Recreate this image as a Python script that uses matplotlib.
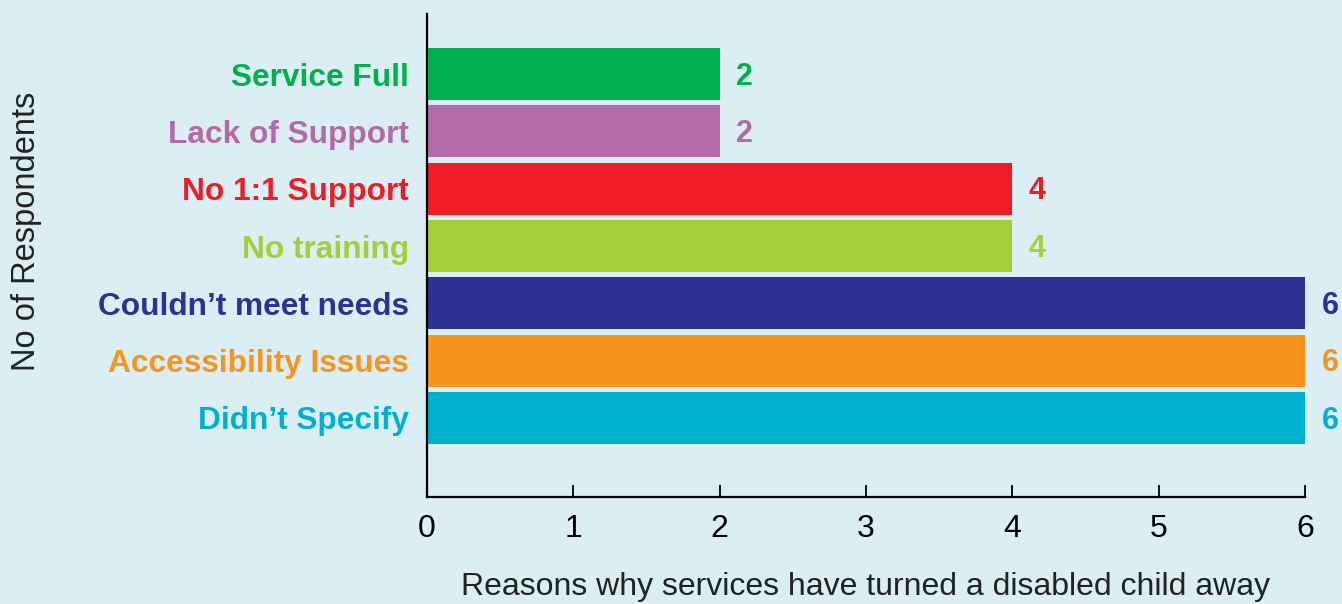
import matplotlib
matplotlib.use("Agg")
import matplotlib.pyplot as plt

categories = ["Didn't Specify", "Accessibility Issues", "Couldn't meet needs",
              "No training", "No 1:1 Support", "Lack of Support", "Service Full"]
values = [6, 6, 6, 4, 4, 2, 2]
colors = ["#00b1cf", "#f7941d", "#2e3192", "#a6ce39", "#ee1c25", "#b36aa8", "#00b04f"]
xticks = [0, 1, 2, 3, 4, 5, 6]

SANS = ["Liberation Sans", "DejaVu Sans"]

bg = "#daeef3"
fig = plt.figure(figsize=(13.42, 6.04), dpi=100, facecolor=bg)
ax = fig.add_axes([0.318, 0.177, 0.6545, 0.8])
ax.set_facecolor(bg)

ypos = list(range(len(categories)))
labels_display = [c.replace("'", "\u2019") for c in categories]
ax.barh(ypos, values, height=0.91, color=colors)
for y, v, c in zip(ypos, values, colors):
    ax.annotate(str(v), (v, y), xytext=(12, -2), textcoords="offset points",
                ha="left", va="center", color=c, fontsize=22, fontweight="bold",
                family=SANS)

ax.set_xlim(0, 6)
ax.set_ylim(-1.38, 7.05)
ax.set_yticks(ypos)
ax.set_yticklabels(labels_display, fontsize=22.8, fontweight="bold", family=SANS)
for lbl, c in zip(ax.get_yticklabels(), colors):
    lbl.set_color(c)
ax.tick_params(axis="y", length=0, pad=13)
ax.set_xticks(xticks)
ax.set_xticklabels([str(t) for t in xticks], fontsize=23, family=SANS)
ax.tick_params(axis="x", direction="in", length=9, width=1.3, pad=12, colors="black")

for s in ["top", "right"]:
    ax.spines[s].set_visible(False)
for s in ["left", "bottom"]:
    ax.spines[s].set_linewidth(1.6)
    ax.spines[s].set_color("black")

ax.set_xlabel("Reasons why services have turned a disabled child away", fontsize=23,
              family=SANS, color="#222222", labelpad=20)
fig.text(0.02, 0.617, "No of Respondents", rotation=90, fontsize=23.5,
         family=SANS, color="#222222", ha="center", va="center")

fig.savefig("out.png", dpi=100, facecolor=bg)
